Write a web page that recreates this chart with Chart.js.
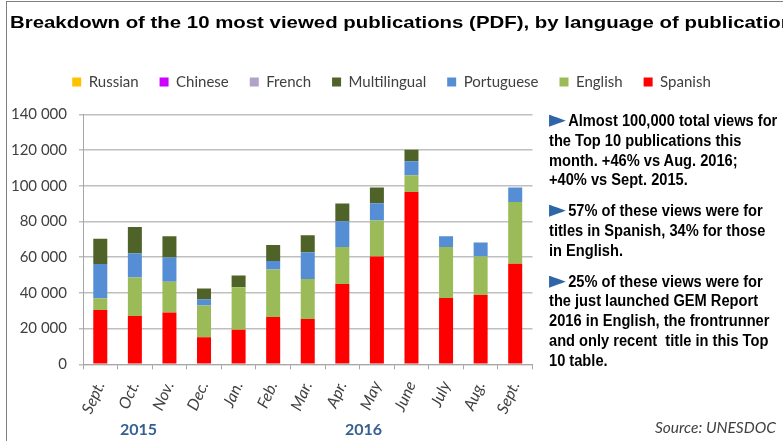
<!DOCTYPE html>
<html>
<head>
<meta charset="utf-8">
<script src="https://cdn.jsdelivr.net/npm/chart.js@4.4.1/dist/chart.umd.min.js"></script>
<style>
  html, body { margin: 0; padding: 0; background: #fff; overflow: hidden; }
  #wrap { position: relative; width: 783px; height: 441px; overflow: hidden; }
  #chart { position: absolute; left: 0; top: 0; }
  .frame { position: absolute; left: 6px; top: 1px; width: 800px; height: 460px;
           border-top: 1.5px solid #7f7f7f; border-left: 1.5px solid #7f7f7f; }
  #title { position: absolute; left: 10px; top: 13px; white-space: nowrap;
           font: bold 17px "Liberation Sans", Arial, sans-serif; color: #000;
           transform: scaleX(1.2); transform-origin: 0 0; }
  #notes { position: absolute; left: 549px; top: 111px; width: 260px;
           font: bold 16px "Liberation Sans", Arial, sans-serif; color: #000;
           line-height: 19.8px; transform: scaleX(0.915); transform-origin: 0 0; white-space: nowrap; }
  #notes p { margin: 0 0 11px 0; }
  .tri { color: #2e64a8; font-family: "DejaVu Sans", sans-serif; font-size: 24px; line-height: 10px;
         display: inline-block; width: 21px; vertical-align: -1px; }
  .year { position: absolute; top: 419px; font: bold 16px Lato, sans-serif; color: #376092; }
  #source { position: absolute; left: 655px; top: 418px; font: italic 15.5px Lato, sans-serif; color: #404040; white-space: nowrap; }
</style>
</head>
<body>
<div id="wrap">
  <canvas id="chart" width="783" height="441" style="width:783px;height:441px"></canvas>
  <div class="frame"></div>
  <div id="title">Breakdown of the 10 most viewed publications (PDF), by language of publication</div>
  <div id="notes">
    <p><span class="tri">►</span>Almost 100,000 total views for<br>the Top 10 publications this<br>month. +46% vs Aug. 2016;<br>+40% vs Sept. 2015.</p>
    <p><span class="tri">►</span>57% of these views were for<br>titles in Spanish, 34% for those<br>in English.</p>
    <p><span class="tri">►</span>25% of these views were for<br>the just launched GEM Report<br>2016 in English, the frontrunner<br>and only recent&nbsp; title in this Top<br>10 table.</p>
  </div>
  <div class="year" style="left:120px">2015</div>
  <div class="year" style="left:345px">2016</div>
  <div id="source">Source: UNESDOC</div>
</div>
<script>
const months = ['Sept.', 'Oct.', 'Nov.', 'Dec.', 'Jan.', 'Feb.', 'Mar.', 'Apr.', 'May', 'June', 'July', 'Aug.', 'Sept.'];

const spanish      = [30500, 27100, 29000, 15100, 19400, 26500, 25400, 45000, 60400, 96600, 37200, 38900, 56300];
const english      = [6500, 21500, 17200, 17900, 23800, 26700, 22400, 20800, 20200, 9400, 28600, 21500, 34600];
const portuguese   = [19200, 13600, 13600, 3500, 0, 4700, 15000, 14400, 9700, 7800, 6000, 7800, 8200];
const multilingual = [14200, 14800, 12000, 6000, 6500, 9000, 9500, 9900, 8800, 6500, 0, 0, 0];
const french       = [0, 0, 0, 0, 0, 0, 0, 0, 0, 0, 0, 0, 0];
const chinese      = [0, 0, 0, 0, 0, 0, 0, 0, 0, 0, 0, 0, 0];
const russian      = [0, 0, 0, 0, 0, 0, 0, 0, 0, 0, 0, 0, 0];

const yTicks = [0, 20000, 40000, 60000, 80000, 100000, 120000, 140000];

function spaced(v) {
    return String(v).replace(/\B(?=(\d{3})+(?!\d))/g, ' ');
}

// push the plot down below the legend
const legendSpacer = {
    id: 'legendSpacer',
    beforeInit(chart) {
        const fit = chart.legend.fit;
        chart.legend.fit = function () {
            fit.bind(chart.legend)();
            this.height += 15;
        };
    }
};

const ctx = document.getElementById('chart').getContext('2d');

new Chart(ctx, {
    type: 'bar',
    data: {
        labels: months,
        datasets: [
            { label: 'Spanish', data: spanish, backgroundColor: '#ff0000' },
            { label: 'English', data: english, backgroundColor: '#9bbb59' },
            { label: 'Portuguese', data: portuguese, backgroundColor: '#558ed5' },
            { label: 'Multilingual', data: multilingual, backgroundColor: '#4f6228' },
            { label: 'French', data: french, backgroundColor: '#b3a2c7' },
            { label: 'Chinese', data: chinese, backgroundColor: '#cc00ff' },
            { label: 'Russian', data: russian, backgroundColor: '#ffc000' }
        ]
    },
    options: {
        responsive: false,
        animation: false,
        layout: { padding: { top: 53.5, left: 0, right: 0, bottom: 0 } },
        datasets: {
            bar: { categoryPercentage: 1, barPercentage: 0.405, borderWidth: 0 }
        },
        plugins: {
            title: { display: false },
            tooltip: { enabled: false },
            legend: {
                position: 'top',
                reverse: true,
                labels: {
                    boxWidth: 9,
                    boxHeight: 9,
                    padding: 21,
                    color: '#404040',
                    font: { family: 'Lato', size: 15 }
                }
            }
        },
        scales: {
            x: {
                stacked: true,
                grid: { offset: true, drawOnChartArea: false, drawTicks: true, tickLength: 5, color: '#a6a6a6' },
                border: { color: '#a6a6a6' },
                ticks: {
                    minRotation: 66,
                    maxRotation: 66,
                    padding: 9,
                    color: '#404040',
                    font: { family: 'Lato', size: 16, style: 'italic' }
                },
                afterFit(s) { s.height = 76.7; }
            },
            y: {
                stacked: true,
                min: 0,
                max: 140000,
                afterBuildTicks(s) { s.ticks = yTicks.map(v => ({ value: v })); },
                ticks: {
                    padding: 12,
                    color: '#404040',
                    font: { family: 'Lato', size: 15 },
                    callback: v => spaced(v)
                },
                grid: { color: '#bfbfbf', lineWidth: 1.5, tickLength: 4 },
                border: { color: '#a6a6a6' },
                afterFit(s) { s.width = 83; }
            },
            side: {
                type: 'linear',
                position: 'right',
                grid: { display: false },
                border: { display: false },
                ticks: { display: false },
                afterFit(s) { s.width = 250.5; }
            }
        }
    },
    plugins: [legendSpacer]
});
</script>
</body>
</html>
